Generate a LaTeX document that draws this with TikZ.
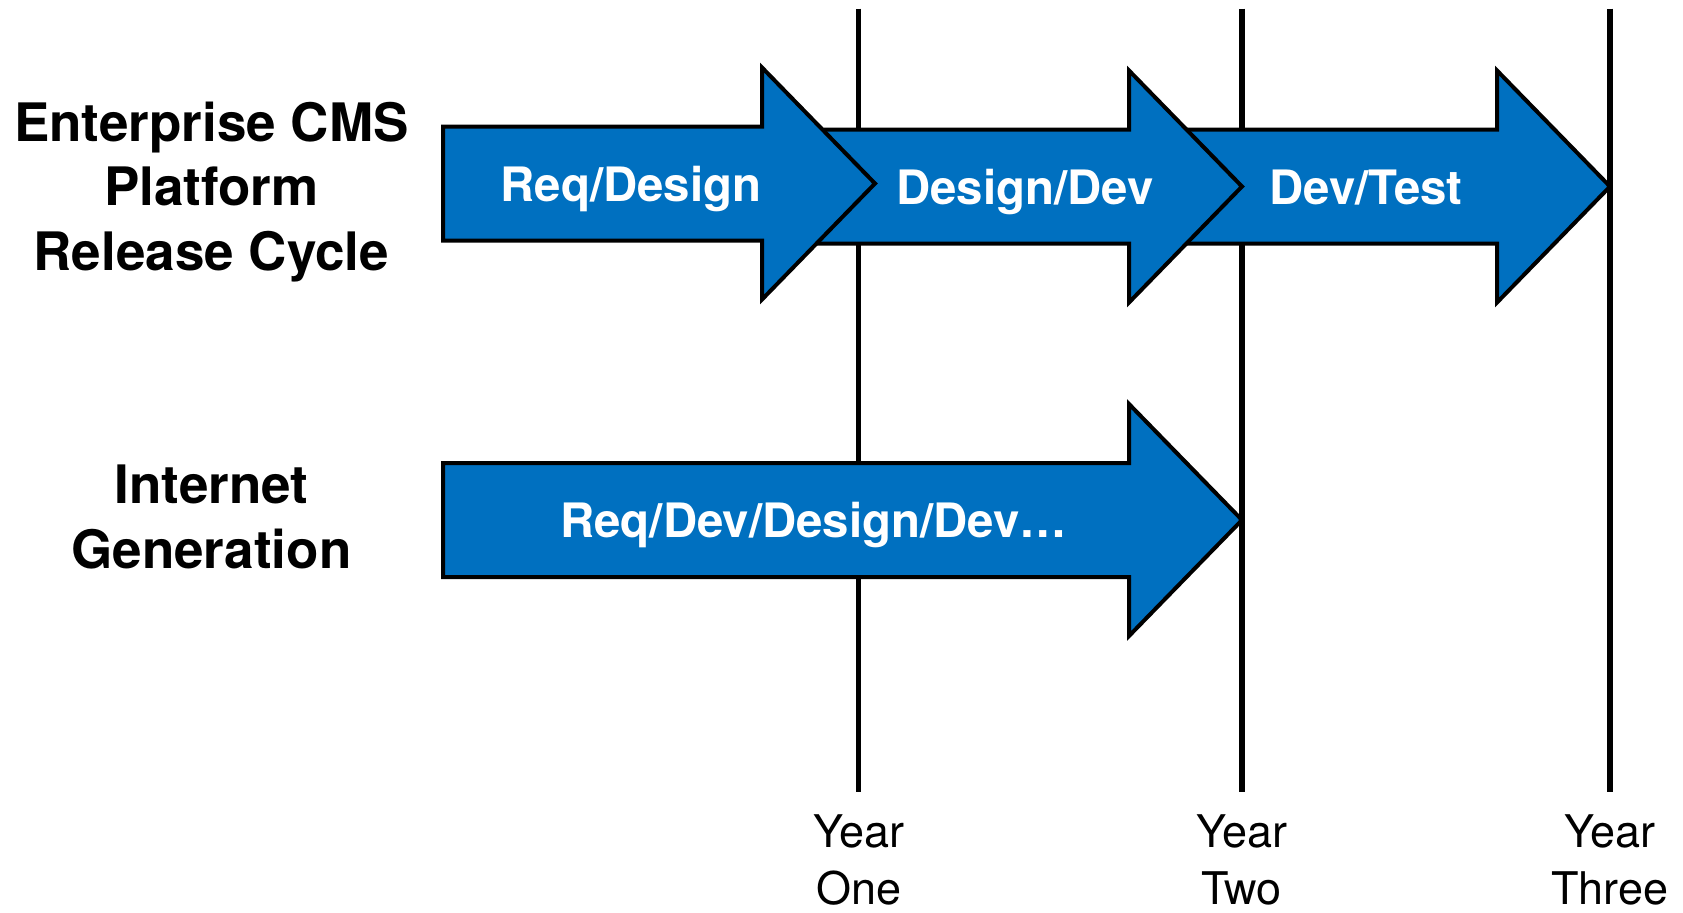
\documentclass[tikz,border=0pt]{standalone}
\usepackage{fontspec}
\setmainfont{TeX Gyre Heros}
\usepackage{tikz}
\definecolor{phaseblue}{RGB}{0,112,192}

\begin{document}
\begin{tikzpicture}[x = 0.5pt, y = -0.5pt, line width = 2pt,
  phase/.style = {fill = phaseblue, draw = black, line width = 2pt, line join = miter},
  phasetext/.style = {text = white, font = \bfseries\fontsize{23.7}{28}\selectfont, anchor = base},
  rowlabel/.style = {align = center, font = \bfseries\fontsize{26.5}{32.2}\selectfont},
  yearlabel/.style = {align = center, font = \fontsize{22.5}{28.6}\selectfont, anchor = north}]
\useasboundingbox (0, 0) rectangle (1683, 912);

% year lines
\coordinate (oneTop) at (858.6, 8.6);
\coordinate (oneBot) at (858.6, 792);
\coordinate (twoTop) at (1241.8, 8.6);
\coordinate (twoBot) at (1241.8, 792);
\coordinate (threeTop) at (1610, 8.6);
\coordinate (threeBot) at (1610, 792);
\draw[line width = 2.8pt] (oneTop) -- (oneBot);
\draw[line width = 2.8pt] (twoTop) -- (twoBot);
\draw[line width = 2.8pt] (threeTop) -- (threeBot);

\node[yearlabel] (yearOne) at (858.6, 806) {Year\\One};
\node[yearlabel] (yearTwo) at (1241.8, 806) {Year\\Two};
\node[yearlabel] (yearThree) at (1610, 806) {Year\\Three};

% CMS release cycle
\filldraw[phase] (1170, 129.5) -- (1497, 129.5) -- (1497, 70.5) -- (1610, 186.5)
  -- (1497, 302.5) -- (1497, 243.5) -- (1170, 243.5) -- cycle;
\filldraw[phase] (800, 129.5) -- (1129, 129.5) -- (1129, 70.5) -- (1242, 186.5)
  -- (1129, 302.5) -- (1129, 243.5) -- (800, 243.5) -- cycle;
\filldraw[phase] (443, 126.5) -- (762, 126.5) -- (762, 67.5) -- (875, 183.5)
  -- (762, 299.5) -- (762, 240.5) -- (443, 240.5) -- cycle;

\node[phasetext] (reqDesign) at (631, 201.6) {Req/Design};
\node[phasetext] (designDev) at (1025, 204.8) {Design/Dev};
\node[phasetext] (devTest) at (1366, 204.8) {Dev/Test};

% internet generation
\filldraw[phase] (443, 463) -- (1129, 463) -- (1129, 404) -- (1242, 520)
  -- (1129, 636) -- (1129, 577) -- (443, 577) -- cycle;
\node[phasetext] (reqDevAll) at (813.6, 537.5) {Req/Dev/Design/Dev…};

\node[rowlabel] (cmsLabel) at (211.4, 192) {Enterprise CMS\\Platform\\Release Cycle};
\node[rowlabel] (netLabel) at (211.4, 517) {Internet\\Generation};

\end{tikzpicture}
\end{document}
